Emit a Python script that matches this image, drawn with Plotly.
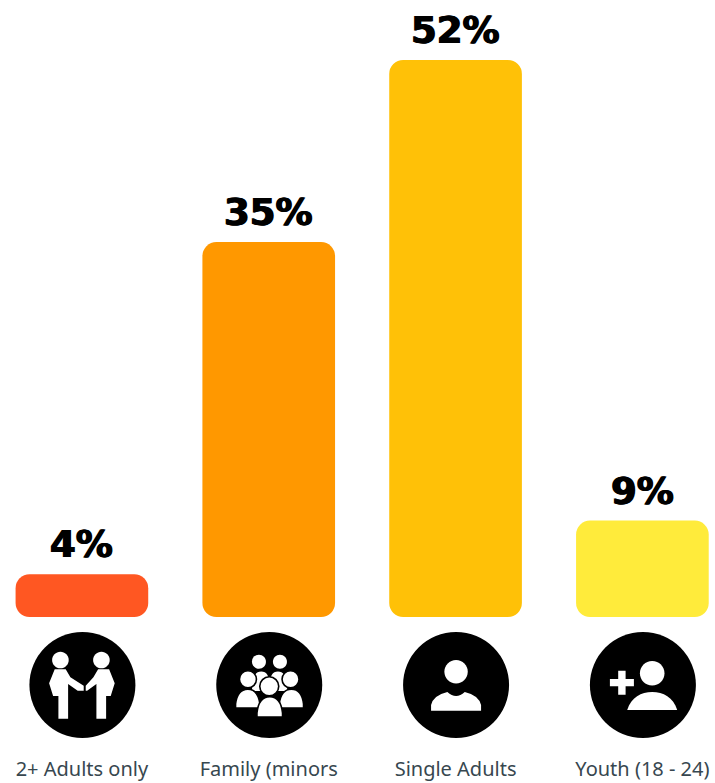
import plotly.graph_objects as go

categories = ["2+ Adults only", "Family (minors", "Single Adults", "Youth (18 - 24)"]
values = [4, 35, 52, 9]
labels = ["4%", "35%", "52%", "9%"]
colors = ["#FF5722", "#FF9800", "#FFC107", "#FFEB3B"]

R = 53
ICON_DROP = 68
NUDGE = 0.5
K = 0.5523


def pt(x, y):
    """Icon-centred pixel (y down) -> shape pixel offset from the plot-bottom anchor (y up)."""
    return f"{x + NUDGE:.1f},{-y - ICON_DROP:.1f}"


def circle(cx, cy, r):
    k = K * r
    return (f"M{pt(cx - r, cy)} "
            f"C{pt(cx - r, cy - k)} {pt(cx - k, cy - r)} {pt(cx, cy - r)} "
            f"C{pt(cx + k, cy - r)} {pt(cx + r, cy - k)} {pt(cx + r, cy)} "
            f"C{pt(cx + r, cy + k)} {pt(cx + k, cy + r)} {pt(cx, cy + r)} "
            f"C{pt(cx - k, cy + r)} {pt(cx - r, cy + k)} {pt(cx - r, cy)} Z")


def conv(commands, c):
    """Zoomed-crop drawing coordinates -> shape path."""
    out = []
    for item in commands:
        if isinstance(item, str):
            out.append(item)
        else:
            out.append(pt((item[0] - c[0]) / 3, (item[1] - c[1]) / 3))
    return " ".join(out)


def dome(x0, x1, top, bottom):
    mid = (x0 + x1) / 2
    return ["M", (x0, bottom), "L", (x0, bottom - 12), "C", (x0 + 4, top + 12), (mid - 18, top), (mid, top),
            "C", (mid + 18, top), (x1 - 4, top + 12), (x1, bottom - 12), "L", (x1, bottom), "Z"]


def person_left():
    return ["M", (165, 148), "L", (198, 148), "L", (212, 172), "L", (252, 197), "L", (252, 212), "L", (234, 212),
            "L", (205, 192), "L", (205, 296), "L", (176, 296), "L", (176, 228), "L", (160, 228),
            "L", (148, 190), "Z"]


def person_right():
    return ["M", (328, 148), "L", (295, 148), "L", (281, 172), "L", (258, 197), "L", (258, 212), "L", (262, 212),
            "L", (290, 192), "L", (290, 296), "L", (319, 296), "L", (319, 228), "L", (333, 228),
            "L", (345, 190), "Z"]


c1 = (248, 195)
c2 = (806, 195)
c3 = (288, 195)
c4 = (850, 195)

icons = [
    [
        (circle(-22, -25, 8.3), False),
        (circle(19, -25, 8.3), False),
        (conv(person_left(), c1), False),
        (conv(person_right(), c1), False),
    ],
    [
        (conv(dome(752, 812, 152, 215), c2), True),
        (conv(dome(802, 862, 152, 215), c2), True),
        (circle(-10.3, -23.3, 7), False),
        (circle(10.7, -23.3, 7), False),
        (conv(dome(705, 778, 208, 264), c2), True),
        (conv(dome(836, 909, 208, 264), c2), True),
        (circle(-21.3, -5.7, 8.5), True),
        (circle(21.3, -5.7, 8.5), True),
        (conv(dome(769, 846, 230, 291), c2), True),
        (circle(0, 1.3, 9.5), True),
    ],
    [
        (circle(0, -13.3, 11.7), False),
        (conv(["M", (213, 272), "L", (213, 255), "Q", (220, 226), (262, 216), "Q", (288, 240), (314, 216),
               "Q", (356, 226), (363, 255), "L", (363, 272), "Z"], c3), False),
    ],
    [
        (circle(9.3, -11.7, 12.3), False),
        (conv(["M", (803, 270), "C", (815, 232), (845, 216), (878, 216),
               "C", (911, 216), (941, 232), (953, 270), "Z"], c4), False),
        (conv(["M", (776, 152), "L", (798, 152), "L", (798, 177), "L", (823, 177), "L", (823, 199), "L", (798, 199),
               "L", (798, 224), "L", (776, 224), "L", (776, 199), "L", (751, 199), "L", (751, 177), "L", (776, 177),
               "Z"], c4), False),
    ],
]

fig = go.Figure(
    go.Bar(
        x=categories,
        y=values,
        base=0,
        marker=dict(color=colors, line=dict(width=0), cornerradius=14),
        width=0.71,
        hoverinfo="skip",
    )
)

shapes = []
for i, glyphs in enumerate(icons):
    common = dict(xref="x", yref="paper", xsizemode="pixel", ysizemode="pixel",
                  xanchor=i, yanchor=0, layer="above")
    shapes.append(dict(type="circle", x0=-R + NUDGE, x1=R + NUDGE, y0=-ICON_DROP - R, y1=-ICON_DROP + R,
                       fillcolor="black", line=dict(width=0), **common))
    for path, outlined in glyphs:
        shapes.append(dict(type="path", path=path, fillcolor="white",
                           line=dict(color="black" if outlined else "white", width=1.6 if outlined else 0),
                           **common))

annotations = [
    dict(x=c, y=v, text=t, xref="x", yref="y", yanchor="bottom", xanchor="center", showarrow=False,
         yshift=6, font=dict(family="DejaVu Sans", size=37, color="black", weight="bold",
                             shadow="0.7px 0 0 black, -0.7px 0 0 black"))
    for c, v, t in zip(categories, values, labels)
]

fig.update_layout(
    width=715,
    height=783,
    autosize=False,
    margin=dict(l=0, r=0, t=0, b=166),
    paper_bgcolor="white",
    plot_bgcolor="white",
    showlegend=False,
    xaxis=dict(
        type="category",
        range=[-0.4384, 3.3886],
        showgrid=False,
        zeroline=False,
        showline=False,
        ticks="",
        ticklabelstandoff=138,
        tickangle=0,
        tickfont=dict(family="Noto Sans", size=20, color="#37474F"),
        automargin=False,
    ),
    yaxis=dict(range=[0, 57.6], visible=False, showgrid=False, zeroline=False),
    shapes=shapes,
    annotations=annotations,
)

fig.write_html(
    "out.html",
    config={"displayModeBar": False},
    post_script="document.body.style.margin='0';document.documentElement.style.overflow='hidden';",
)
